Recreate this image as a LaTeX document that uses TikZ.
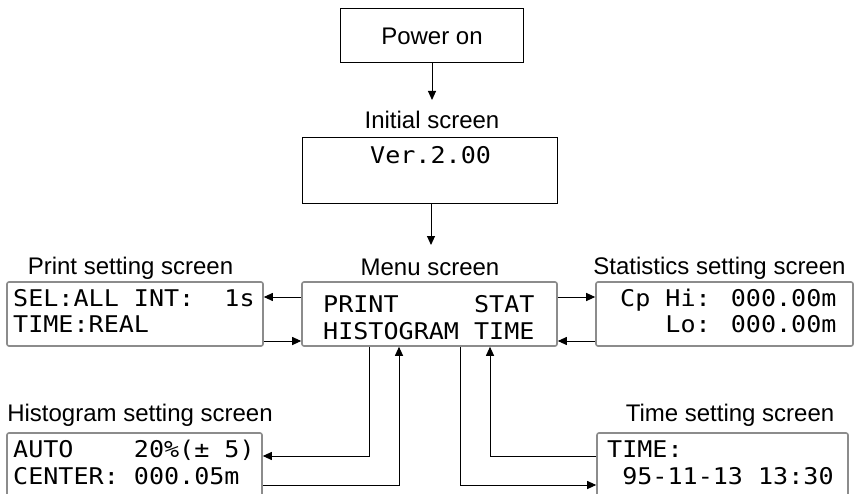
\documentclass[tikz,border=0pt]{standalone}
\usepackage{fontspec}
\setmainfont{Liberation Sans}
\newfontfamily\lcdface[FakeStretch=1.09]{DejaVu Sans Mono}
\usetikzlibrary{arrows.meta}
\definecolor{lcdgray}{HTML}{8C8C8C}
\newcommand\lblfont{\fontsize{24}{28}\selectfont}
\newcommand\lcdfont{\lcdface\fontsize{23}{26}\selectfont}

\begin{document}
\begin{tikzpicture}[x=1pt,y=-1pt,
    lbl/.style={font=\lblfont,inner sep=0pt,anchor=base},
    lcd/.style={draw=lcdgray,line width=1.6pt,rounded corners=2pt,fill=white,inner sep=0pt},
    lcdtxt/.style={font=\lcdfont,inner sep=0pt,anchor=base west},
    arr/.style={-{Triangle[length=9pt,width=8pt]},line width=1pt}]
    \clip (0,0) rectangle (858,494);
    \node[draw,line width=1pt,minimum width=183pt,minimum height=54pt,font=\lblfont] (power) at (432,36) {Power on};
    \coordinate (inittip) at (432,100);
    \draw[arr] (power.south) -- (inittip);
    \node[lbl] (initlbl) at (432,129) {Initial screen};
    \node[draw,line width=0.8pt,minimum width=255pt,minimum height=66pt,inner sep=0pt] (init) at (429.5,170) {};
    \node[lcdtxt] (ver) at (370,164) {Ver.2.00};
    \coordinate (menutip) at (431,245);
    \draw[arr] (init.south -| menutip) -- (menutip);
    \node[lbl] (menulbl) at (430,275) {Menu screen};
    \node[lcd,minimum width=255pt,minimum height=64pt] (menu) at (429.5,314) {};
    \node[lcdtxt] (menua) at (323,312) {PRINT\ \ \ \ \ STAT};
    \node[lcdtxt] (menub) at (323,339) {HISTOGRAM TIME};
    \node[lbl] (printlbl) at (130.5,274) {Print setting screen};
    \node[lcd,minimum width=256pt,minimum height=64pt] (print) at (135,314) {};
    \node[lcdtxt] (printa) at (13,306) {SEL:ALL INT:\ \ 1s};
    \node[lcdtxt] (printb) at (13,332) {TIME:REAL};
    \node[lbl] (statslbl) at (719.5,274) {Statistics setting screen};
    \node[lcd,minimum width=257pt,minimum height=64pt] (stats) at (724.5,314) {};
    \node[lcdtxt] (statsa) at (620,306) {Cp Hi: 000.00m};
    \node[lcdtxt] (statsb) at (620,332) {\ \ \ Lo: 000.00m};
    \node[lbl] (histlbl) at (140,421) {Histogram setting screen};
    \node[lcd,minimum width=255pt,minimum height=77pt] (hist) at (134.5,471.5) {};
    \node[lcdtxt] (hista) at (13,457) {AUTO\ \ \ \ 20\%(± 5)};
    \node[lcdtxt] (histb) at (13,484) {CENTER: 000.05m};
    \node[lbl] (timelbl) at (730,421) {Time setting screen};
    \node[lcd,minimum width=251pt,minimum height=77pt] (time) at (722.5,471.5) {};
    \node[lcdtxt] (timea) at (607,457) {TIME:};
    \node[lcdtxt] (timeb) at (607,484) {\ 95-11-13 13:30};
    \draw[arr] (menu.west |- 0,297) -- (print.east |- 0,297);
    \draw[arr] (print.east |- 0,341) -- (menu.west |- 0,341);
    \draw[arr] (menu.east |- 0,297) -- (stats.west |- 0,297);
    \draw[arr] (stats.west |- 0,341) -- (menu.east |- 0,341);
    \draw[arr] (menu.south -| 369,0) |- (hist.east |- 0,456);
    \draw[arr] (hist.east |- 0,485) -| (menu.south -| 399,0);
    \draw[arr] (menu.south -| 460,0) |- (time.west |- 0,485);
    \draw[arr] (time.west |- 0,456) -| (menu.south -| 490,0);
\end{tikzpicture}
\end{document}
